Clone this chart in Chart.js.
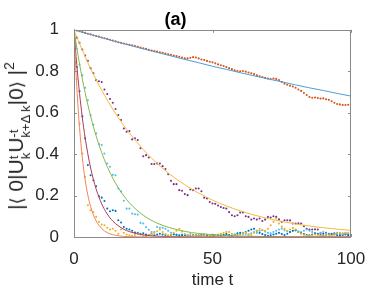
<!DOCTYPE html>
<html>
<head>
<meta charset="utf-8">
<script src="https://cdn.jsdelivr.net/npm/chart.js@4.4.1/dist/chart.umd.min.js"></script>
<style>
  html, body { margin: 0; padding: 0; background: #ffffff; }
  #wrap { position: relative; width: 388px; height: 291px; overflow: hidden; }
  #ylab {
    position: absolute; left: 17px; top: 136px;
    transform: translate(-50%, -50%) rotate(-90deg);
    white-space: nowrap;
    font-family: "Liberation Sans", Arial, Helvetica, sans-serif;
    font-size: 21px; color: #262626; line-height: 1;
  }
  #ylab .ss { display: inline-block; vertical-align: -7px; font-size: 13px; line-height: 12px; text-align: left; }
  #ylab .ss span { display: block; }
  #ylab .sup2 { font-size: 14px; vertical-align: 9px; }
  #ylab .ang { font-family: "DejaVu Sans", sans-serif; font-size: 18px; }
</style>
</head>
<body>
<div id="wrap">
  <canvas id="c" width="388" height="291"></canvas>
  <div id="ylab">|<span class="ang">⟨</span> 0|U<span class="ss"><span>t</span><span>k</span></span>U<span class="ss"><span>-t</span><span>k+Δ k</span></span>|0<span class="ang">⟩</span> |<span class="sup2">2</span></div>
</div>
<script>
// time axis of the simulated points
const times = [];
for (let t = 0; t <= 100; t++) times.push(t);

// simulated data (dots), one value per time step
const redDots = [1.000,0.997,0.993,0.989,0.985,0.981,0.978,0.974,0.970,0.967,0.963,0.959,0.956,0.952,0.948,0.944,0.940,0.937,0.934,0.930,
  0.928,0.925,0.921,0.918,0.914,0.911,0.908,0.904,0.900,0.897,0.895,0.892,0.889,0.885,0.882,0.879,0.876,0.873,0.870,0.866,
  0.862,0.862,0.865,0.868,0.866,0.862,0.857,0.854,0.850,0.846,0.843,0.838,0.833,0.829,0.825,0.820,0.815,0.810,0.805,0.801,
  0.800,0.801,0.798,0.794,0.790,0.786,0.780,0.776,0.772,0.768,0.765,0.762,0.765,0.763,0.757,0.748,0.740,0.735,0.730,0.726,
  0.720,0.712,0.705,0.695,0.685,0.676,0.672,0.673,0.671,0.668,0.669,0.665,0.662,0.655,0.648,0.642,0.640,0.637,0.637,0.638,0.641];
const purpleDots = [1.000,0.962,0.937,0.905,0.876,0.850,0.815,0.790,0.757,0.752,0.748,0.712,0.690,0.666,0.648,0.618,0.589,0.565,0.524,0.508,
  0.511,0.471,0.476,0.468,0.428,0.390,0.395,0.384,0.352,0.352,0.355,0.355,0.342,0.328,0.303,0.271,0.255,0.255,0.226,0.223,
  0.207,0.202,0.229,0.226,0.234,0.234,0.221,0.190,0.186,0.169,0.162,0.160,0.152,0.145,0.140,0.137,0.120,0.105,0.100,0.105,
  0.118,0.118,0.100,0.097,0.084,0.089,0.084,0.089,0.077,0.084,0.097,0.094,0.100,0.097,0.085,0.073,0.081,0.081,0.080,0.065,
  0.065,0.066,0.065,0.052,0.040,0.036,0.036,0.037,0.036,0.018,0.016,0.020,0.015,0.012,0.018,0.015,0.010,0.014,0.016,0.012,0.015];
const cyanDots = [1.000,0.910,0.832,0.780,0.720,0.660,0.587,0.542,0.500,0.448,0.444,0.403,0.355,0.339,0.300,0.298,0.234,0.220,0.175,0.137,
  0.137,0.113,0.110,0.108,0.068,0.065,0.048,0.035,0.024,0.024,0.048,0.045,0.045,0.040,0.030,0.020,0.015,0.012,0.010,0.012,
  0.008,0.010,0.014,0.008,0.006,0.010,0.012,0.008,0.006,0.010,0.012,0.008,0.010,0.014,0.010,0.012,0.008,0.006,0.010,0.012,
  0.016,0.020,0.014,0.010,0.018,0.024,0.020,0.030,0.034,0.026,0.020,0.018,0.024,0.030,0.036,0.040,0.032,0.028,0.024,0.030,
  0.034,0.028,0.024,0.030,0.036,0.030,0.024,0.018,0.016,0.020,0.024,0.018,0.014,0.012,0.016,0.020,0.016,0.018,0.020,0.016,0.018];
const blueDots = [1.000,0.820,0.703,0.582,0.476,0.347,0.298,0.274,0.245,0.197,0.190,0.174,0.137,0.124,0.129,0.126,0.081,0.070,0.048,0.040,
  0.036,0.030,0.022,0.020,0.016,0.018,0.012,0.010,0.014,0.008,0.012,0.016,0.012,0.010,0.006,0.008,0.012,0.010,0.006,0.008,
  0.010,0.006,0.004,0.008,0.010,0.006,0.008,0.012,0.008,0.004,0.006,0.010,0.008,0.006,0.010,0.014,0.010,0.006,0.012,0.018,
  0.020,0.016,0.024,0.030,0.036,0.040,0.030,0.020,0.014,0.010,0.006,0.008,0.012,0.016,0.020,0.014,0.010,0.016,0.024,0.030,
  0.032,0.024,0.018,0.014,0.010,0.008,0.012,0.018,0.014,0.010,0.006,0.008,0.012,0.016,0.012,0.008,0.006,0.010,0.012,0.008,0.010];
const yellowDots = [1.000,0.760,0.547,0.403,0.290,0.153,0.129,0.121,0.097,0.073,0.060,0.057,0.045,0.036,0.040,0.030,0.016,0.036,0.020,0.012,
  0.008,0.006,0.010,0.016,0.012,0.006,0.004,0.010,0.014,0.020,0.028,0.036,0.024,0.014,0.008,0.010,0.020,0.030,0.040,0.026,
  0.014,0.008,0.004,0.006,0.010,0.006,0.004,0.008,0.012,0.006,0.004,0.008,0.012,0.016,0.020,0.024,0.024,0.016,0.010,0.006,
  0.010,0.016,0.020,0.014,0.010,0.020,0.030,0.040,0.034,0.030,0.040,0.057,0.073,0.089,0.065,0.050,0.040,0.030,0.036,0.044,
  0.036,0.024,0.016,0.010,0.006,0.004,0.008,0.012,0.010,0.006,0.004,0.008,0.010,0.006,0.012,0.016,0.020,0.014,0.018,0.020,0.016];

// fitted curves, sampled at these times
const fitTimes = [0,0.5,1,1.5,2,3,4,5,6,7,8,10,12,14,16,18,20,25,30,35,40,45,50,55,60,65,70,75,80,85,90,95,100];
const fitBlue   = [1,0.998,0.996,0.994,0.992,0.988,0.985,0.981,0.977,0.973,0.970,0.962,0.955,0.947,0.940,0.933,0.926,0.908,0.891,0.874,0.857,0.841,0.824,0.809,0.793,0.778,0.763,0.749,0.734,0.720,0.707,0.693,0.680];
const fitYellow = [1,0.983,0.966,0.950,0.933,0.902,0.871,0.841,0.813,0.786,0.759,0.708,0.661,0.617,0.576,0.537,0.502,0.422,0.355,0.299,0.252,0.212,0.178,0.150,0.126,0.106,0.089,0.075,0.063,0.053,0.045,0.038,0.032];
const fitGreen  = [1,0.956,0.914,0.874,0.835,0.763,0.698,0.638,0.583,0.533,0.487,0.407,0.340,0.284,0.237,0.198,0.165,0.105,0.067,0.043,0.027,0.017,0.011,0.007,0.0045,0.003,0.0018,0.0012,0.0007,0.0005,0.0003,0.0002,0.0001];
const fitDarkRed= [1,0.912,0.833,0.760,0.693,0.577,0.481,0.401,0.333,0.278,0.231,0.160,0.111,0.077,0.054,0.037,0.026,0.010,0.004,0.0017,0.0007,0.0003,0.0001,0,0,0,0,0,0,0,0,0,0];
const fitOrange = [1,0.852,0.726,0.619,0.527,0.383,0.278,0.202,0.147,0.106,0.077,0.041,0.021,0.011,0.006,0.003,0.0017,0.0003,0,0,0,0,0,0,0,0,0,0,0,0,0,0,0];

// axis ticks
const xTicks = [0, 50, 100];
const yTicks = [0, 0.2, 0.4, 0.6, 0.8, 1];

const pts = (xs, ys) => xs.map((x, i) => ({ x: x, y: ys[i] }));
const fitDs = (ys, color) => ({
  data: pts(fitTimes, ys), showLine: true, borderColor: color, borderWidth: 1,
  pointRadius: 0, cubicInterpolationMode: 'monotone', fill: false
});
const dotDs = (ys, color) => ({
  data: pts(times, ys), showLine: false, backgroundColor: color, borderWidth: 0,
  pointRadius: 1.05, pointHoverRadius: 1.05, pointStyle: 'circle'
});

const boxPlugin = {
  id: 'box',
  afterDatasetsDraw(chart) {
    const { ctx, chartArea: a, scales } = chart;
    ctx.save();
    ctx.strokeStyle = '#8a8a8a';
    ctx.lineWidth = 1;
    ctx.strokeRect(Math.round(a.left) + 0.5, Math.round(a.top) + 0.5,
                   Math.round(a.right - a.left) - 1, Math.round(a.bottom - a.top));
    ctx.beginPath();
    const L = 3;
    xTicks.forEach(v => {
      const px = Math.round(scales.x.getPixelForValue(v)) + 0.5;
      ctx.moveTo(px, a.bottom); ctx.lineTo(px, a.bottom - L);
      ctx.moveTo(px, a.top); ctx.lineTo(px, a.top + L);
    });
    yTicks.forEach(v => {
      const py = Math.round(scales.y.getPixelForValue(v)) + 0.5;
      ctx.moveTo(a.left, py); ctx.lineTo(a.left + L, py);
      ctx.moveTo(a.right, py); ctx.lineTo(a.right - L, py);
    });
    ctx.stroke();
    ctx.restore();
  }
};

const FONT = '"Liberation Sans", Arial, Helvetica, sans-serif';

new Chart(document.getElementById('c'), {
  type: 'scatter',
  data: {
    datasets: [
      fitDs(fitOrange, '#F08458'),
      fitDs(fitDarkRed, '#B13A56'),
      fitDs(fitGreen, '#86B84A'),
      fitDs(fitYellow, '#F0BC3A'),
      fitDs(fitBlue, '#4A9FDB'),
      dotDs(yellowDots, '#EDB120'),
      dotDs(blueDots, '#0072BD'),
      dotDs(cyanDots, '#4DBEEE'),
      dotDs(purpleDots, '#7E2F8E'),
      dotDs(redDots, '#D95319')
    ]
  },
  options: {
    responsive: false,
    animation: false,
    events: [],
    layout: { padding: { left: 0, right: 37, top: 0, bottom: 0 } },
    plugins: {
      legend: { display: false },
      tooltip: { enabled: false },
      title: {
        display: true, text: '(a)', color: '#000000',
        font: { family: FONT, size: 18, weight: 'bold', lineHeight: 1.1 },
        padding: { top: 10, bottom: 0 }
      }
    },
    scales: {
      x: {
        type: 'linear', min: 0, max: 100,
        afterBuildTicks: s => { s.ticks = xTicks.map(v => ({ value: v })); },
        afterFit: s => { s.height = 54; },
        grid: { display: false },
        border: { display: false },
        ticks: { color: '#262626', font: { family: FONT, size: 17 }, padding: 4, maxRotation: 0,
                 callback: v => String(v) },
        title: { display: true, text: 'time t', color: '#262626',
                 font: { family: FONT, size: 17 }, padding: { top: 0, bottom: 0 } }
      },
      y: {
        type: 'linear', min: 0, max: 1,
        afterBuildTicks: s => { s.ticks = yTicks.map(v => ({ value: v })); },
        afterFit: s => { s.width = 74; },
        grid: { display: false },
        border: { display: false },
        ticks: { color: '#262626', font: { family: FONT, size: 17 }, padding: 7,
                 callback: v => String(Math.round(v * 10) / 10) }
      }
    }
  },
  plugins: [boxPlugin]
});
</script>
</body>
</html>
